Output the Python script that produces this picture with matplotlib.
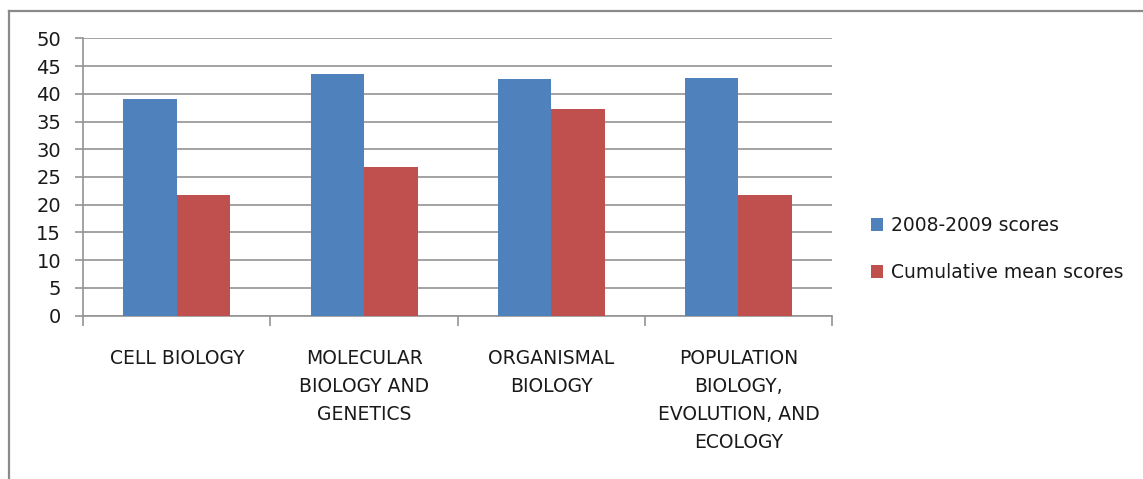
import matplotlib.pyplot as plt
import numpy as np
from matplotlib.lines import Line2D

categories = ["CELL BIOLOGY",
              "MOLECULAR\nBIOLOGY AND\nGENETICS",
              "ORGANISMAL\nBIOLOGY",
              "POPULATION\nBIOLOGY,\nEVOLUTION, AND\nECOLOGY"]
scores_0809 = [39.1, 43.5, 42.7, 42.9]
cumulative_mean = [21.8, 26.8, 37.3, 21.8]
series_names = ["2008-2009 scores", "Cumulative mean scores"]
y_ticks = list(range(0, 51, 5))

BLUE = "#4F81BD"
RED = "#C0504D"
GRID = "#949494"

plt.rcParams['font.family'] = ['DejaVu Sans']

W, H = 1143, 479
fig = plt.figure(figsize=(W / 100, H / 100), dpi=100)
ax = fig.add_axes([83.3 / W, 1 - 315.7 / H, (832 - 83.3) / W, (315.7 - 38.3) / H])

x = np.arange(len(categories))
w = 1 / 3.5
ax.bar(x - w / 2, scores_0809, w, color=BLUE, label=series_names[0], zorder=3)
ax.bar(x + w / 2, cumulative_mean, w, color=RED, label=series_names[1], zorder=3)

ax.set_xlim(-0.5, len(categories) - 0.5)
ax.set_ylim(0, 50)
ax.set_yticks(y_ticks)
ax.yaxis.grid(True, color=GRID, linewidth=1.2)
ax.set_axisbelow(True)

for s in ("top", "right"):
    ax.spines[s].set_visible(False)
for s in ("left", "bottom"):
    ax.spines[s].set_color(GRID)
    ax.spines[s].set_linewidth(1.2)

ax.tick_params(axis="y", length=6, width=1.2, color=GRID, pad=10, labelsize=14, labelcolor="#1a1a1a")

# category labels at centres, tick marks on category boundaries
ax.set_xticks(x)
ax.set_xticklabels(categories, fontsize=13.5, linespacing=1.6, color="#1a1a1a")
ax.tick_params(axis="x", which="major", length=0, pad=24)
ax.set_xticks(np.arange(-0.5, len(categories)), minor=True)
ax.tick_params(axis="x", which="minor", length=7, width=1.2, color=GRID)

fig.legend(loc="center left", bbox_to_anchor=(871 / W, 1 - 249 / H), frameon=False,
           borderpad=0, borderaxespad=0,
           fontsize=13.5, handlelength=0.64, handleheight=0.64, handletextpad=0.42,
           labelspacing=1.5, labelcolor="#1a1a1a")

# chart frame
fig.add_artist(Line2D([9 / W, 9 / W], [0, 1 - 11 / H], color="#8a8a8a", linewidth=1.6))
fig.add_artist(Line2D([9 / W, 1], [1 - 11 / H, 1 - 11 / H], color="#8a8a8a", linewidth=1.6))

fig.savefig("out.png", dpi=100)
